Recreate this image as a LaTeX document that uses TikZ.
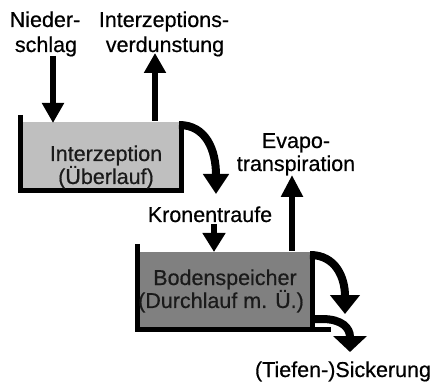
\documentclass[tikz,border=0pt]{standalone}
\usepackage{fontspec}
\setmainfont{Liberation Sans}
\newfontfamily\lblfont[FakeBold=0.5]{Liberation Sans}
\usetikzlibrary{arrows.meta}
\definecolor{fillA}{HTML}{BFBFBF}
\definecolor{fillB}{HTML}{808080}
\definecolor{inText}{HTML}{1A1A1A}
\begin{document}
\begin{tikzpicture}[x=1pt,y=-1pt,
  lbl/.style={anchor=base,inner sep=0pt,font=\lblfont\fontsize{21.5}{24}\selectfont},
  inlbl/.style={lbl,text=inText},
  boxfill/.style={draw=none,inner sep=0pt,outer sep=0pt},
  wall/.style={line width=5pt,line join=miter},
  flow/.style={line width=6.5pt,-{Triangle[length=20pt,width=21pt]}},
  bendflow/.style={line width=8pt}]
\useasboundingbox (0,0) rectangle (437,385);
% containers
\node[boxfill,fill=fillA,minimum width=161pt,minimum height=68pt] (box1) at (100.5,156.5) {};
\node[boxfill,fill=fillB,minimum width=175pt,minimum height=77pt] (box2) at (224.5,290.5) {};
\draw[wall] (20,115) -- (20,190.5) -- (181,190.5) -- (181,123);
\draw[wall] (137,244) -- (137,329) -- (331,329);
\draw[wall] (312,252) -- (312,329);
% labels
\node[lbl] (nied1) at (45,27) {Nieder-};
\node[lbl] (nied2) at (46,52) {schlag};
\node[lbl] (iv1) at (164,27) {Interzeptions-};
\node[lbl] (iv2) at (165,52) {verdunstung};
\node[inlbl] (in1) at (106,161) {Interzeption};
\node[inlbl] (in2) at (106,184) {(Überlauf)};
\node[lbl] (kr) at (210,222) {Kronentraufe};
\node[lbl] (ev1) at (296,148) {Evapo-};
\node[lbl] (ev2) at (296,171) {transpiration};
\node[inlbl] (bo1) at (225,285) {Bodenspeicher};
\node[inlbl] (bo2) at (221,308) {(Durchlauf m. Ü.)};
\node[lbl] (si) at (343,377) {(Tiefen-)Sickerung};
% connector end points
\coordinate (nA) at (53,56);
\coordinate (nB) at (53,123);
\coordinate (ivA) at (155,121);
\coordinate (ivB) at (155,53);
\coordinate (krA) at (214,224);
\coordinate (krB) at (214,252);
\coordinate (evA) at (292,251);
\coordinate (evB) at (292,175);
\coordinate (o1A) at (179,125);
\coordinate (o1B) at (216,194);
\coordinate (o2A) at (310,255);
\coordinate (o2B) at (345,314);
\coordinate (o3A) at (310,319);
\coordinate (o3B) at (350,352);
% straight flows
\draw[flow] (nA) -- (nB);
\draw[flow] (ivA) -- (ivB);
\draw[line width=6.5pt,-{Triangle[length=19pt,width=22pt]}] (krA) -- (krB);
\draw[flow,-{Triangle[length=22pt,width=21pt]}] (evA) -- (evB);
% overflow arcs
\draw[bendflow,-{Triangle[length=20pt,width=25pt]}] (o1A) .. controls (206,125) and (216,150) .. (o1B);
\draw[bendflow,-{Triangle[length=19pt,width=29pt]}] (o2A) .. controls (336,255) and (345,278) .. (o2B);
\draw[bendflow,-{Triangle[length=16pt,width=33pt]}] (o3A) -- (322,319) .. controls (342,319) and (350,328) .. (o3B);
\end{tikzpicture}
\end{document}
